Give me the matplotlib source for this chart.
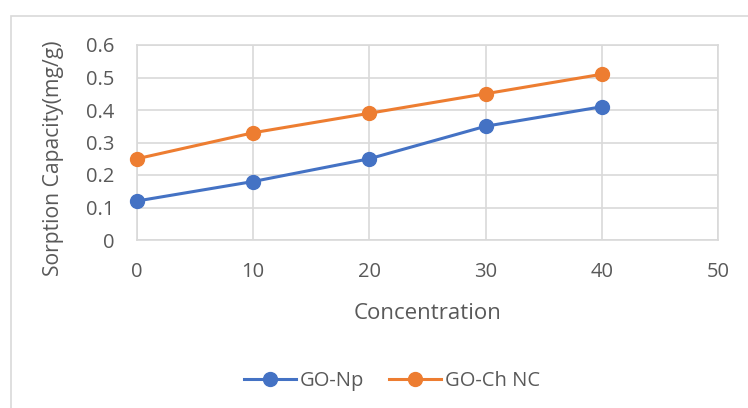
import matplotlib.pyplot as plt
from matplotlib.patches import Rectangle

plt.rcParams['font.family'] = ['Open Sans', 'DejaVu Sans']

concentration = [0, 10, 20, 30, 40]
go_np = [0.12, 0.18, 0.25, 0.35, 0.41]
go_ch = [0.25, 0.33, 0.39, 0.45, 0.51]
xticks = [0, 10, 20, 30, 40, 50]
yticks = [0, 0.1, 0.2, 0.3, 0.4, 0.5, 0.6]
ytick_labels = ['0', '0.1', '0.2', '0.3', '0.4', '0.5', '0.6']

txt = '#595959'
grid = '#d9d9d9'

fig = plt.figure(figsize=(7.48, 4.08), dpi=100)
# outer chart border (cut off at right/bottom like the screenshot)
fig.patches.append(Rectangle((11/748, -0.1), 1.0, 1 - 16/408 + 0.1, transform=fig.transFigure,
                             fill=False, edgecolor=grid, lw=1.2))

ax = fig.add_axes([137/748, 1 - 240/408, (718 - 137)/748, (240 - 45)/408])
ax.plot(concentration, go_np, color='#4472c4', lw=2.2, marker='o', ms=10, label='GO-Np', clip_on=False, zorder=3)
ax.plot(concentration, go_ch, color='#ed7d31', lw=2.2, marker='o', ms=10, label='GO-Ch NC', clip_on=False, zorder=3)

ax.set_xlim(0, 50)
ax.set_ylim(0, 0.6)
ax.set_xticks(xticks)
ax.set_yticks(yticks)
ax.set_yticklabels(ytick_labels)
ax.grid(True, color=grid, lw=1.2)
ax.set_axisbelow(True)
for s in ax.spines.values():
    s.set_color(grid)
    s.set_linewidth(1.2)
ax.tick_params(length=0, colors=txt, labelsize=14.5, pad=16)
ax.tick_params(axis='x', pad=16)

ax.set_xlabel('Concentration', color=txt, fontsize=16, labelpad=15)
ax.set_ylabel('Sorption Capacity(mg/g)', color=txt, fontsize=15.2)
ax.yaxis.set_label_coords(-0.125, 0.42)

leg = fig.legend(loc='center', bbox_to_anchor=(392/748, 1 - 381/408), ncol=2, frameon=False,
                 fontsize=14.5, handlelength=2.6, columnspacing=1.2, handletextpad=0.2)
for t in leg.get_texts():
    t.set_color(txt)

fig.savefig('out.png', dpi=100)
